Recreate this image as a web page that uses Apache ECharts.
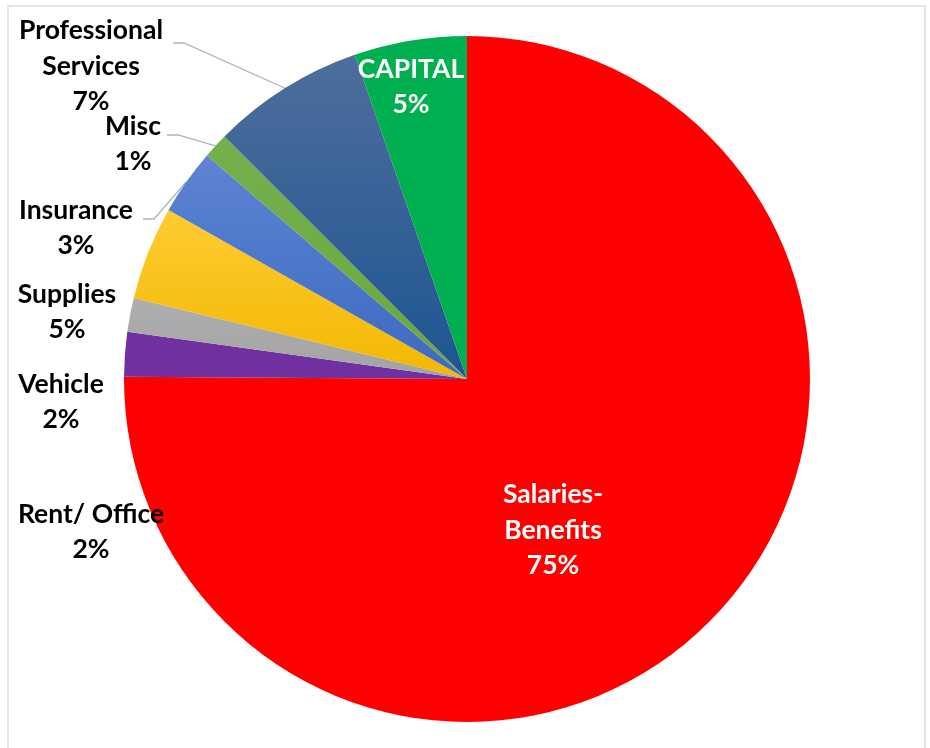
<!DOCTYPE html>
<html>
<head>
<meta charset="utf-8">
<script src="https://cdn.jsdelivr.net/npm/echarts@6/dist/echarts.min.js"></script>
<style>
  html, body { margin: 0; padding: 0; background: #fff; }
  #chart { width: 930px; height: 748px; }
</style>
</head>
<body>
<div id="chart"></div>
<script>
// ---- data ----
var categories = ['Salaries-\nBenefits', 'Rent/ Office', 'Vehicle', 'Supplies', 'Insurance', 'Misc', 'Professional\nServices', 'CAPITAL'];
var values = [75.1, 2.1, 1.6, 4.4, 3.1, 1.2, 7.2, 5.3];

// ---- styles ----
var sliceColors = [
  ['#FF0000', '#FF0000'],
  ['#7030A0', '#7030A0'],
  ['#AEAEAE', '#A3A3A3'],
  ['#FFCB33', '#F2B800'],
  ['#5E84D2', '#3C69C0'],
  ['#74B04B', '#6AA842'],
  ['#4E6E9C', '#1D5592'],
  ['#00B050', '#00B050']
];
var labelColors = ['#FFFFFF', '#000', '#000', '#000', '#000', '#000', '#000', '#FFFFFF'];
var hasLeader = [false, false, false, false, true, true, true, false];
// label block centres (layout only)
var labelAnchor = [
  [553, 530], [91, 532], [61, 402], [67, 312], [76, 228], [133, 144], [91, 66], [411, 87]
];
// leader line starting points (layout only)
var leaderStart = {4: [143, 219], 5: [167, 135], 6: [173, 43]};

var chart = echarts.init(document.getElementById('chart'));

var pieData = categories.map(function (name, i) {
  return {
    name: name,
    value: values[i],
    itemStyle: {
      color: {
        type: 'linear', x: 0, y: 0, x2: 0, y2: 1,
        colorStops: [
          {offset: 0, color: sliceColors[i][0]},
          {offset: 1, color: sliceColors[i][1]}
        ]
      }
    },
    label: { color: labelColors[i] },
    labelLine: { show: hasLeader[i] }
  };
});

chart.setOption({
  backgroundColor: '#FFFFFF',
  animation: false,
  graphic: [{
    type: 'rect',
    shape: { x: 8, y: 6, width: 917, height: 760 },
    style: { fill: 'none', stroke: '#E2E5EA', lineWidth: 2 },
    silent: true
  }],
  series: [{
    type: 'pie',
    center: [467, 379],
    radius: 343,
    startAngle: 90,
    clockwise: true,
    percentPrecision: 0,
    data: pieData,
    label: {
      show: true,
      position: 'outside',
      formatter: '{b}\n{d}%',
      fontFamily: 'Lato',
      fontWeight: 'bold',
      fontSize: 26.5,
      lineHeight: 35.5,
      align: 'center',
      overflow: 'none'
    },
    labelLine: {
      lineStyle: { color: '#A9B5C4', width: 1.3 },
      length: 10,
      length2: 10
    },
    labelLayout: function (params) {
      var i = params.dataIndex;
      var out = {
        x: labelAnchor[i][0],
        y: labelAnchor[i][1],
        align: 'center',
        verticalAlign: 'middle',
        width: 300
      };
      if (leaderStart[i] && params.labelLinePoints) {
        var end = params.labelLinePoints[0];
        var s = leaderStart[i];
        out.labelLinePoints = [[s[0], s[1]], [s[0] + 11, s[1]], [end[0], end[1]]];
      }
      return out;
    },
    emphasis: { disabled: true }
  }]
});
</script>
</body>
</html>
